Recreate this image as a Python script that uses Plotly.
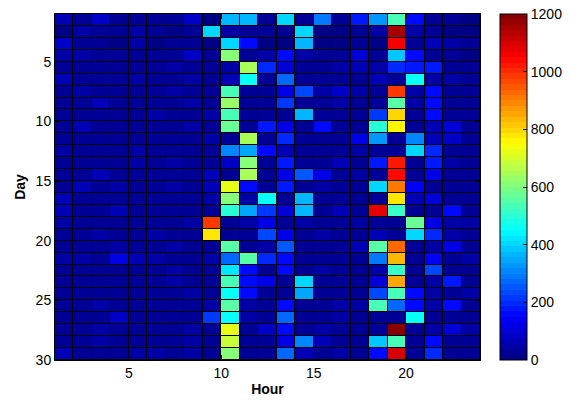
import plotly.graph_objects as go

# Cell edges (pcolor style: 23 x 29 visible cells)
hour_edges = list(range(1, 25))
day_edges = list(range(1, 31))
x_ticks = [5, 10, 15, 20]
y_ticks = [5, 10, 15, 20, 25, 30]
cbar_ticks = [0, 200, 400, 600, 800, 1000, 1200]

day_01 = [70, 20, 90, 20, 25, 20, 20, 75, 15, 360, 370, 20, 400, 20, 290, 20, 180, 320, 540, 150, 30, 20, 15]
day_02 = [15, 40, 20, 20, 45, 20, 15, 20, 410, 45, 25, 20, 20, 400, 15, 15, 20, 40, 1160, 55, 30, 15, 15]
day_03 = [75, 20, 20, 15, 50, 15, 30, 30, 15, 400, 150, 15, 15, 370, 15, 15, 20, 15, 1050, 25, 60, 40, 20]
day_04 = [40, 50, 20, 20, 20, 20, 20, 75, 20, 600, 20, 40, 160, 40, 25, 35, 110, 20, 375, 160, 30, 20, 15]
day_05 = [20, 20, 35, 25, 20, 25, 45, 25, 20, 55, 640, 200, 95, 30, 25, 40, 70, 55, 200, 180, 170, 25, 20]
day_06 = [65, 25, 20, 25, 40, 20, 25, 45, 20, 70, 465, 20, 280, 20, 20, 20, 30, 65, 30, 450, 55, 45, 20]
day_07 = [20, 40, 25, 20, 25, 20, 45, 25, 20, 525, 25, 20, 115, 240, 55, 80, 40, 20, 975, 55, 160, 25, 20]
day_08 = [20, 25, 70, 20, 20, 25, 25, 50, 20, 620, 25, 20, 220, 20, 20, 40, 25, 20, 545, 40, 160, 30, 20]
day_09 = [20, 25, 30, 25, 25, 40, 25, 25, 40, 525, 20, 20, 25, 360, 20, 30, 20, 220, 795, 20, 160, 30, 20]
day_10 = [25, 65, 25, 20, 20, 20, 25, 40, 20, 580, 20, 180, 130, 25, 150, 30, 20, 490, 750, 20, 60, 110, 25]
day_11 = [25, 25, 20, 20, 25, 20, 20, 25, 55, 25, 640, 20, 200, 30, 30, 25, 130, 320, 25, 300, 60, 80, 30]
day_12 = [40, 25, 25, 25, 40, 25, 20, 20, 20, 300, 340, 160, 70, 20, 20, 25, 55, 25, 25, 400, 200, 30, 20]
day_13 = [25, 25, 25, 20, 40, 25, 55, 25, 20, 75, 600, 25, 180, 30, 20, 60, 30, 180, 1030, 25, 180, 40, 20]
day_14 = [25, 25, 60, 20, 25, 25, 20, 20, 60, 25, 650, 25, 115, 260, 130, 25, 40, 30, 1040, 25, 130, 30, 20]
day_15 = [20, 65, 25, 40, 20, 25, 40, 20, 65, 715, 160, 20, 180, 25, 55, 30, 25, 400, 900, 140, 30, 25, 20]
day_16 = [65, 25, 30, 25, 20, 25, 25, 20, 55, 600, 55, 450, 25, 360, 25, 30, 25, 25, 785, 65, 95, 30, 25]
day_17 = [60, 30, 25, 65, 25, 25, 25, 25, 25, 490, 340, 220, 100, 360, 25, 60, 25, 1080, 510, 30, 30, 160, 25]
day_18 = [50, 25, 25, 25, 25, 25, 25, 40, 990, 25, 45, 125, 30, 55, 30, 25, 55, 25, 25, 580, 130, 55, 40]
day_19 = [25, 25, 55, 25, 25, 40, 25, 20, 770, 25, 30, 240, 115, 30, 40, 30, 25, 60, 25, 400, 200, 40, 25]
day_20 = [25, 25, 25, 40, 25, 30, 40, 25, 25, 560, 25, 40, 260, 25, 25, 25, 65, 545, 920, 25, 40, 115, 25]
day_21 = [40, 40, 25, 115, 60, 50, 25, 25, 55, 280, 560, 200, 160, 30, 25, 25, 25, 290, 825, 25, 135, 30, 40]
day_22 = [25, 25, 25, 25, 25, 25, 50, 25, 25, 420, 160, 25, 160, 25, 40, 25, 25, 40, 510, 25, 240, 30, 25]
day_23 = [25, 25, 25, 25, 25, 25, 50, 25, 25, 525, 160, 115, 30, 400, 25, 25, 25, 95, 860, 30, 55, 180, 25]
day_24 = [25, 25, 25, 25, 25, 25, 25, 55, 25, 465, 160, 30, 25, 340, 25, 25, 25, 240, 525, 160, 40, 25, 40]
day_25 = [25, 25, 50, 25, 25, 25, 25, 25, 50, 560, 55, 30, 160, 25, 25, 55, 40, 525, 280, 160, 40, 160, 25]
day_26 = [25, 25, 30, 80, 25, 25, 25, 25, 220, 465, 50, 25, 280, 25, 30, 50, 25, 25, 25, 465, 25, 30, 25]
day_27 = [25, 25, 50, 25, 30, 25, 25, 40, 25, 715, 25, 80, 150, 25, 40, 25, 25, 25, 1200, 25, 40, 95, 50]
day_28 = [25, 25, 40, 25, 25, 25, 25, 50, 25, 690, 25, 25, 125, 300, 65, 25, 30, 375, 525, 30, 160, 25, 25]
day_29 = [65, 25, 25, 25, 40, 50, 30, 40, 30, 600, 25, 25, 280, 65, 30, 40, 30, 150, 1090, 30, 200, 25, 30]

counts = [day_01, day_02, day_03, day_04, day_05, day_06, day_07, day_08, day_09, day_10,
          day_11, day_12, day_13, day_14, day_15, day_16, day_17, day_18, day_19, day_20,
          day_21, day_22, day_23, day_24, day_25, day_26, day_27, day_28, day_29]


def jet(t):
    def clip(v):
        return max(0.0, min(1.0, v))
    r = clip(min(4 * t - 1.5, -4 * t + 4.5))
    g = clip(min(4 * t - 0.5, -4 * t + 3.5))
    b = clip(min(4 * t + 0.5, -4 * t + 2.5))
    return "rgb(%d,%d,%d)" % (round(r * 255), round(g * 255), round(b * 255))


n_steps = 64
colorscale = []
for i in range(n_steps):
    c = jet((i + 0.5) / n_steps)
    colorscale.append([i / n_steps, c])
    colorscale.append([(i + 1) / n_steps, c])

font_family = "Liberation Sans, Arial, Helvetica, sans-serif"

fig = go.Figure(
    go.Heatmap(
        x=hour_edges,
        y=day_edges,
        z=counts,
        zmin=0,
        zmax=1200,
        colorscale=colorscale,
        xgap=1,
        ygap=1,
        colorbar=dict(
            x=1.047,
            xanchor="left",
            y=0.5,
            yanchor="middle",
            len=1,
            lenmode="fraction",
            thickness=27,
            thicknessmode="pixels",
            outlinewidth=1,
            outlinecolor="black",
            tickvals=cbar_ticks,
            ticks="inside",
            ticklen=4,
            tickcolor="black",
            tickfont=dict(size=14, color="black", family=font_family),
            xpad=0,
            ypad=0,
        ),
    )
)

fig.update_layout(
    width=570,
    height=403,
    margin=dict(l=55, r=90, t=14, b=43, autoexpand=False),
    paper_bgcolor="white",
    plot_bgcolor="black",
    font=dict(family=font_family, size=14, color="black"),
    showlegend=False,
)
fig.update_xaxes(
    range=[1, 24],
    tickvals=x_ticks,
    ticks="inside",
    ticklen=5,
    tickcolor="black",
    showline=True,
    linecolor="black",
    linewidth=1,
    mirror="ticks",
    showgrid=False,
    zeroline=False,
    automargin=False,
    title=dict(text="<b>Hour</b>", standoff=4, font=dict(size=14)),
)
fig.update_yaxes(
    range=[30, 1],
    tickvals=y_ticks,
    ticks="inside",
    ticklen=5,
    tickcolor="black",
    showline=True,
    linecolor="black",
    linewidth=1,
    mirror="ticks",
    showgrid=False,
    zeroline=False,
    automargin=False,
    title=dict(text="<b>Day</b>", standoff=6, font=dict(size=14)),
)

fig.write_html(
    "out.html",
    config={"displayModeBar": False},
    post_script="document.body.style.margin='0';",
)
